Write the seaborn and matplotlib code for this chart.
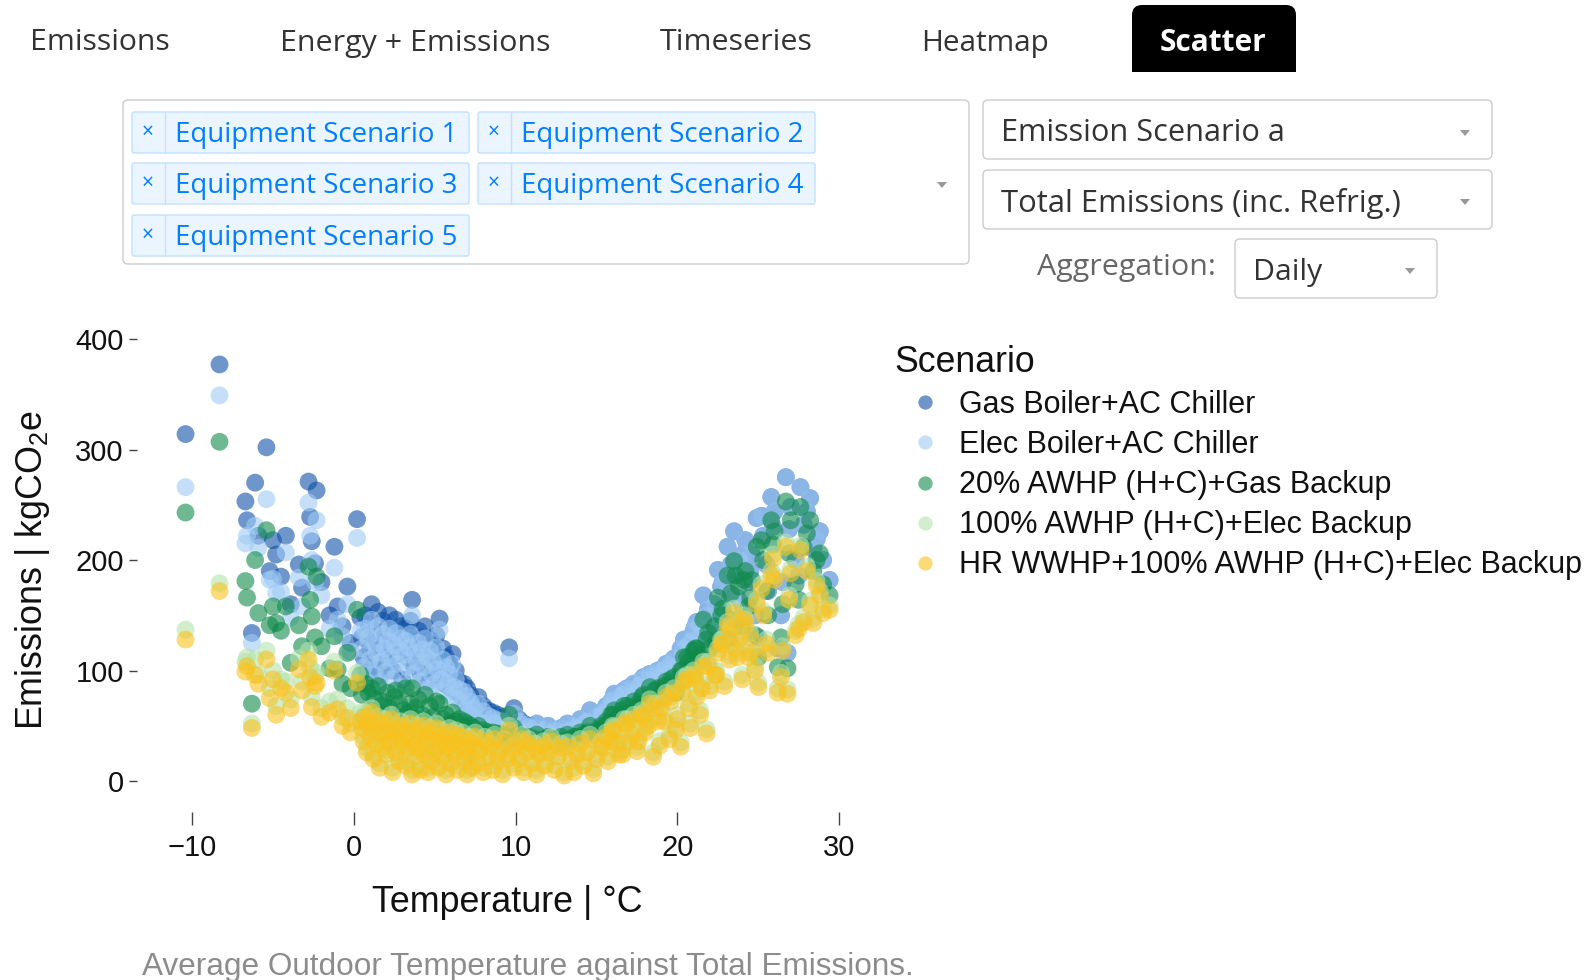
import matplotlib
matplotlib.use("Agg")
import matplotlib.pyplot as plt
import numpy as np
import pandas as pd
import seaborn as sns
from matplotlib.patches import FancyBboxPatch, Rectangle, Polygon

# ---------------- data (daily values) ----------------
scenarios = [
    "Gas Boiler+AC Chiller",
    "Elec Boiler+AC Chiller",
    "20% AWHP (H+C)+Gas Backup",
    "100% AWHP (H+C)+Elec Backup",
    "HR WWHP+100% AWHP (H+C)+Elec Backup",
]

# average outdoor temperature of each day (deg C)
temp = [
    # cold days
    -10.4, -8.3, -6.7, -6.6, -6.3, -6.1, -5.9, -5.4, -5.2, -5.0,
    -4.8, -4.5, -4.2, -3.9, -3.4, -3.2, -2.8, -2.7, -2.6, -2.4,
    -2.3, -2.0, -1.5, -1.2, -1.0, -0.7, -0.4, -0.2, 0.2, 0.4,
    # mild days
    0.5, 0.6, 0.7, 0.8, 0.9, 1.0, 1.1, 1.2, 1.3, 1.4,
    1.5, 1.6, 1.7, 1.8, 1.9, 2.0, 2.1, 2.2, 2.3, 2.4,
    2.5, 2.6, 2.7, 2.8, 2.9, 3.0, 3.1, 3.2, 3.3, 3.4,
    3.5, 3.6, 3.7, 3.8, 3.9, 4.0, 4.1, 4.2, 4.3, 4.4,
    4.5, 4.6, 4.7, 4.8, 4.9, 5.0, 5.1, 5.2, 5.3, 5.4,
    5.5, 5.6, 5.7, 5.8, 5.9, 6.0, 6.1, 6.2, 6.3, 6.4,
    6.5, 6.7, 6.8, 6.9, 7.0, 7.1, 7.2, 7.3, 7.4, 7.5,
    7.7, 7.8, 8.0, 8.1, 8.3, 8.4, 8.6, 8.7, 8.9, 9.0,
    9.2, 9.3, 9.5, 9.6, 9.8, 9.9, 10.1, 10.2, 10.4, 10.5,
    10.7, 10.8, 11.0, 11.2, 11.3, 11.5, 11.7, 11.8, 12.0, 12.2,
    12.4, 12.6, 12.8, 13.0, 13.2, 13.4, 13.6, 13.8, 14.0, 14.2,
    14.4, 14.6, 14.8, 15.0,
    # warm days
    15.3, 15.6, 15.9, 16.1, 16.4, 16.7, 17.0, 17.3, 17.5, 17.8,
    18.0, 18.3, 18.5, 18.8, 19.0, 19.3, 19.5, 19.8, 20.0, 20.2,
    20.4, 20.6, 20.8, 21.0, 21.2, 21.4, 21.6, 21.8, 22.0, 22.3,
    22.5, 22.7, 22.9, 23.1, 23.2, 23.5, 23.6, 23.8, 24.0, 24.2,
    24.4, 24.6, 24.9, 25.0, 25.3, 25.5, 25.8, 25.9, 26.2, 26.5,
    26.7, 26.8, 27.0, 27.3, 27.6, 27.8, 28.2, 28.4, 28.6, 29.0,
    29.4,
    15.4, 15.7, 16.0, 16.3, 16.6, 16.9, 17.2, 17.6, 17.9, 18.2,
    18.6, 18.9, 19.2, 19.6, 19.9, 20.3, 20.7, 21.1, 21.5, 21.9,
    22.4, 22.8, 23.3, 23.7, 24.1, 24.5, 24.8, 25.2, 25.6, 26.0,
    26.4, 26.9, 27.5, 28.0, 28.8,
]

gas_boiler = [
    314, 377, 253, 236, 134, 270, 222, 302, 190, 218,
    205, 185, 222, 160, 196, 175, 271, 239, 217, 197,
    263, 180, 150, 212, 158, 140, 176, 125, 237, 148,
    130, 112, 150, 98, 142, 120, 160, 104, 136, 126,
    153, 95, 118, 145, 130, 108, 138, 150, 122, 100,
    134, 146, 115, 128, 140, 92, 124, 138, 112, 132,
    145, 164, 104, 126, 118, 136, 98, 130, 112, 140,
    122, 90, 128, 106, 118, 96, 132, 110, 147, 100,
    120, 88, 112, 96, 106, 84, 115, 92, 100, 80,
    90, 76, 88, 70, 84, 66, 78, 45, 72, 62,
    76, 58, 68, 56, 64, 52, 62, 56, 60, 50,
    58, 54, 48, 121, 52, 66, 48, 56, 46, 52,
    44, 50, 42, 48, 52, 44, 40, 46, 50, 42,
    46, 40, 48, 44, 52, 46, 50, 48, 56, 52,
    54, 64, 50, 58,
    62, 68, 72, 79, 70, 82, 76, 88, 80, 92,
    84, 97, 90, 100, 94, 106, 98, 111, 104, 120,
    128, 116, 124, 136, 144, 132, 168, 150, 140, 160,
    191, 176, 150, 212, 170, 226, 186, 200, 160, 218,
    180, 205, 238, 130, 222, 196, 257, 230, 120, 180,
    275, 116, 248, 200, 266, 232, 256, 210, 219, 200,
    182,
    60, 66, 74, 68, 78, 84, 74, 86, 94, 80,
    98, 88, 102, 108, 96, 118, 126, 140, 128, 156,
    146, 180, 196, 166, 206, 190, 150, 240, 172, 244,
    150, 228, 186, 244, 226,
]

elec_boiler = [
    266, 349, 215, 222, 125, 231, 211, 255, 182, 183,
    170, 171, 207, 148, 184, 158, 252, 222, 200, 180,
    236, 168, 138, 193, 146, 131, 160, 117, 220, 136,
    120, 103, 138, 90, 130, 110, 146, 96, 125, 116,
    140, 87, 108, 133, 120, 99, 127, 138, 112, 92,
    123, 134, 106, 118, 129, 85, 114, 127, 103, 121,
    133, 150, 96, 116, 108, 125, 90, 119, 103, 129,
    112, 83, 118, 97, 108, 88, 121, 101, 137, 92,
    110, 81, 103, 88, 97, 77, 106, 85, 92, 74,
    83, 70, 81, 64, 77, 61, 72, 42, 66, 57,
    70, 53, 63, 52, 59, 48, 57, 52, 55, 46,
    54, 50, 44, 111, 48, 61, 46, 54, 45, 51,
    43, 49, 42, 48, 52, 44, 40, 46, 50, 42,
    46, 40, 48, 44, 52, 46, 50, 48, 56, 52,
    54, 64, 50, 58,
    62, 68, 72, 79, 70, 82, 76, 88, 80, 92,
    84, 97, 90, 100, 94, 106, 98, 111, 104, 120,
    128, 116, 124, 136, 144, 132, 168, 150, 140, 160,
    191, 176, 150, 212, 170, 226, 186, 200, 160, 218,
    180, 205, 238, 130, 222, 196, 257, 230, 120, 180,
    275, 116, 248, 200, 266, 232, 256, 210, 219, 200,
    182,
    60, 66, 74, 68, 78, 84, 74, 86, 94, 80,
    98, 88, 102, 108, 96, 118, 126, 140, 128, 156,
    146, 180, 196, 166, 206, 190, 150, 240, 172, 244,
    150, 228, 186, 244, 226,
]

awhp20_gas = [
    243, 307, 181, 166, 70, 200, 152, 227, 141, 158,
    143, 136, 158, 107, 141, 122, 194, 164, 149, 130,
    185, 122, 102, 131, 101, 88, 116, 84, 155, 96,
    78, 58, 88, 52, 80, 64, 84, 48, 74, 62,
    86, 44, 68, 72, 60, 50, 80, 66, 56, 42,
    76, 82, 54, 70, 46, 58, 64, 84, 50, 62,
    70, 84, 48, 66, 56, 74, 42, 60, 52, 78,
    54, 40, 68, 46, 58, 44, 72, 48, 70, 50,
    56, 42, 60, 46, 52, 40, 62, 44, 54, 38,
    56, 50, 54, 48, 52, 46, 50, 38, 48, 44,
    50, 42, 46, 42, 44, 40, 44, 42, 43, 38,
    42, 40, 38, 60, 40, 48, 38, 42, 38, 40,
    36, 40, 36, 38, 42, 36, 34, 38, 40, 36,
    38, 34, 40, 36, 42, 38, 40, 40, 44, 42,
    44, 50, 42, 46,
    50, 54, 60, 64, 58, 68, 62, 72, 66, 76,
    70, 85, 74, 84, 80, 90, 82, 94, 88, 100,
    112, 112, 104, 118, 120, 114, 146, 128, 120, 140,
    166, 150, 128, 186, 128, 199, 186, 176, 140, 190,
    158, 182, 212, 112, 200, 172, 236, 214, 103, 160,
    253, 102, 236, 178, 248, 212, 236, 190, 200, 178,
    168,
    48, 52, 60, 56, 64, 68, 60, 70, 78, 68,
    82, 74, 86, 92, 80, 100, 108, 120, 110, 134,
    126, 156, 170, 146, 182, 166, 132, 218, 150, 226,
    130, 206, 164, 224, 206,
]

awhp100_elec = [
    137, 179, 108, 112, 52, 110, 96, 118, 84, 100,
    68, 92, 90, 74, 111, 90, 118, 103, 76, 95,
    98, 66, 72, 108, 74, 58, 66, 52, 98, 62,
    52, 40, 62, 30, 56, 44, 66, 24, 52, 38,
    58, 16, 46, 34, 56, 28, 48, 40, 60, 12,
    44, 30, 50, 22, 54, 36, 42, 18, 48, 34,
    56, 10, 40, 26, 50, 32, 14, 44, 54, 28,
    38, 12, 48, 22, 42, 30, 52, 16, 36, 46,
    26, 40, 10, 34, 48, 20, 38, 28, 46, 14,
    36, 44, 24, 32, 10, 40, 26, 16, 36, 44,
    20, 32, 12, 40, 26, 34, 14, 42, 22, 30,
    10, 38, 24, 50, 32, 16, 36, 24, 42, 12,
    30, 38, 20, 34, 10, 28, 36, 18, 30, 40,
    14, 26, 34, 8, 35, 22, 12, 28, 38, 18,
    30, 42, 11, 24,
    36, 44, 40, 49, 28, 56, 40, 60, 31, 64,
    48, 74, 26, 58, 70, 80, 42, 84, 60, 35,
    94, 96, 52, 100, 80, 64, 108, 47, 86, 100,
    120, 128, 90, 144, 114, 156, 124, 132, 96, 146,
    116, 120, 164, 89, 154, 128, 190, 205, 84, 122,
    216, 83, 192, 136, 213, 148, 163, 147, 181, 156,
    159,
    34, 22, 50, 38, 28, 56, 46, 40, 62, 54,
    70, 36, 58, 76, 50, 84, 70, 96, 88, 108,
    100, 128, 140, 116, 150, 134, 104, 178, 120, 186,
    98, 168, 142, 194, 172,
]

hr_wwhp = [
    128, 172, 99, 104, 48, 96, 88, 110, 75, 92,
    60, 84, 80, 66, 101, 82, 110, 94, 67, 86,
    89, 58, 62, 100, 65, 50, 57, 44, 89, 54,
    48, 36, 58, 26, 52, 40, 62, 20, 48, 34,
    54, 12, 42, 30, 52, 24, 44, 36, 56, 8,
    40, 26, 46, 18, 50, 32, 38, 14, 44, 30,
    52, 6, 36, 22, 46, 28, 10, 40, 50, 24,
    34, 8, 44, 18, 38, 26, 48, 12, 32, 42,
    22, 36, 6, 30, 44, 16, 34, 24, 42, 10,
    32, 40, 20, 28, 6, 36, 22, 12, 32, 40,
    16, 28, 8, 36, 22, 30, 10, 38, 18, 26,
    6, 34, 20, 46, 28, 12, 32, 20, 38, 8,
    26, 34, 16, 30, 6, 24, 32, 14, 26, 36,
    10, 22, 30, 5, 31, 18, 8, 24, 34, 14,
    26, 38, 7, 20,
    32, 40, 36, 45, 24, 52, 36, 56, 27, 60,
    44, 70, 22, 54, 66, 76, 38, 80, 56, 31,
    90, 92, 48, 96, 76, 60, 104, 43, 82, 96,
    116, 124, 86, 140, 110, 152, 120, 128, 92, 142,
    112, 116, 160, 85, 150, 124, 186, 201, 80, 118,
    212, 79, 188, 132, 209, 144, 159, 143, 177, 152,
    155,
    30, 18, 46, 34, 24, 52, 42, 36, 58, 50,
    66, 32, 54, 72, 46, 80, 66, 92, 84, 104,
    96, 124, 136, 112, 146, 130, 100, 174, 116, 182,
    94, 164, 138, 190, 168,
]

colors = ["#0d50a8", "#9fcbf6", "#0e8a4a", "#b5e3ad", "#fac21c"]

x_ticks = [-10, 0, 10, 20, 30]
y_ticks = [0, 100, 200, 300, 400]

tabs = ["Emissions", "Energy + Emissions", "Timeseries", "Heatmap", "Scatter"]
chips = ["Equipment Scenario 1", "Equipment Scenario 2", "Equipment Scenario 3",
         "Equipment Scenario 4", "Equipment Scenario 5"]

# ---------------- build long table ----------------
series = [gas_boiler, elec_boiler, awhp20_gas, awhp100_elec, hr_wwhp]
df = pd.concat(
    [pd.DataFrame({"Temperature": temp, "Emissions": vals, "Scenario": name})
     for name, vals in zip(scenarios, series)],
    ignore_index=True,
)

sns.set_theme(style="white")
plt.rcParams["font.family"] = ["Liberation Sans", "DejaVu Sans"]
plt.rcParams["mathtext.fontset"] = "custom"
plt.rcParams["mathtext.rm"] = "Liberation Sans"
plt.rcParams["mathtext.it"] = "Liberation Sans:italic"
plt.rcParams["mathtext.default"] = "regular"

W, H = 1591, 980
fig = plt.figure(figsize=(W / 100, H / 100), dpi=100)
fig.patch.set_facecolor("white")

# UI overlay in pixel coordinates
ui = fig.add_axes([0, 0, 1, 1], zorder=0)
ui.set_xlim(0, W)
ui.set_ylim(H, 0)
ui.axis("off")

# main scatter axes
ax_l, ax_r, ax_t, ax_b = 137, 870, 325, 812
ax = fig.add_axes([ax_l / W, (H - ax_b) / H, (ax_r - ax_l) / W, (ax_b - ax_t) / H], zorder=1)
ax.set_facecolor("none")

sns.scatterplot(
    data=df, x="Temperature", y="Emissions", hue="Scenario",
    hue_order=scenarios, palette=dict(zip(scenarios, colors)),
    s=165, alpha=0.6, linewidth=0, ax=ax,
)

ax.set_xlim(-13.4, 31.9)
ax.set_ylim(-28, 412.7)
ax.set_xticks(x_ticks)
ax.set_yticks(y_ticks)
for sp in ax.spines.values():
    sp.set_visible(False)
ax.tick_params(axis="both", which="major", direction="out", width=1.0,
               color="#444444", labelsize=21, labelcolor="#111111",
               bottom=True, left=True)
ax.tick_params(axis="y", length=5.5, pad=4)
ax.tick_params(axis="x", length=9, pad=7)
ax.grid(False)

ax.set_xlabel("Temperature | °C", fontsize=25.8, color="#111111", va="center")
ax.xaxis.set_label_coords((507 - ax_l) / (ax_r - ax_l), (ax_b - 902) / (ax_b - ax_t))
ax.set_ylabel("Emissions | kgCO$_2$e", fontsize=25.8, color="#111111", va="center")
ax.yaxis.set_label_coords((32 - ax_l) / (ax_r - ax_l), (ax_b - 570) / (ax_b - ax_t))

sns.move_legend(
    ax, "upper left",
    bbox_to_anchor=(894 / W, 1 - 345 / H), bbox_transform=fig.transFigure,
    frameon=False, title="Scenario", fontsize=22.0, title_fontsize=25.7,
    alignment="left", borderpad=0, borderaxespad=0, handletextpad=0.12,
    handlelength=2.0, labelspacing=0.33, markerscale=0.8,
)
leg = ax.get_legend()
for t in leg.get_texts():
    t.set_color("#111111")
leg.get_title().set_color("#111111")

# ---------------- UI widgets ----------------
renderer = fig.canvas.get_renderer()


def fit_text(x, y, s, width, ha="left", va="center", size0=20, **kw):
    t = ui.text(x, y, s, fontsize=size0, ha=ha, va=va, **kw)
    bb = t.get_window_extent(renderer)
    t.set_fontsize(size0 * width / bb.width)
    return t


def rbox(x0, y0, x1, y1, r=4, fc="white", ec="#cccccc", lw=1.0, z=1):
    p = FancyBboxPatch((x0, y0), x1 - x0, y1 - y0,
                       boxstyle=f"round,pad=0,rounding_size={r}",
                       fc=fc, ec=ec, lw=lw, zorder=z)
    ui.add_patch(p)
    return p


def arrow(cx, cy, col="#999999"):
    ui.add_patch(Polygon([(cx - 5, cy - 3), (cx + 5, cy - 3), (cx, cy + 3)],
                         closed=True, fc=col, ec="none", zorder=3))


OPEN = ["Open Sans", "DejaVu Sans"]

# tabs
tab_geom = [(30, 139), (280, 270), (660, 152), (921, 128)]
for name, (x0, w) in zip(tabs[:4], tab_geom):
    fit_text(x0, 43, name, w, family=OPEN, color="#333333")
rbox(1132, 5, 1296, 60, r=10, fc="black", ec="black", lw=0)
ui.add_patch(Rectangle((1132, 40), 164, 32, fc="black", ec="none", zorder=1))
fit_text(1213, 43, tabs[4], 107, ha="center", family=OPEN, color="white",
         fontweight="bold", zorder=4)

# multi-select box
rbox(123, 100, 969, 264, r=5, ec="#cccccc")
chip_pos = [(132, 112), (478, 112), (132, 163), (478, 163), (132, 215)]
chip_size = None
for name, (cx, cy) in zip(chips, chip_pos):
    rbox(cx, cy, cx + 337, cy + 41, r=2, fc="#ebf5ff", ec="#c2e0ff", lw=1.0, z=2)
    ui.plot([cx + 33, cx + 33], [cy, cy + 41], color="#c2e0ff", lw=1.0, zorder=3)
    ui.text(cx + 16, cy + 20, "×", fontsize=15, ha="center", va="center",
            family=OPEN, color="#007eff", zorder=4)
    if chip_size is None:
        t = fit_text(cx + 43, cy + 23, name, 282, family=OPEN, color="#007eff", zorder=4)
        chip_size = t.get_fontsize()
    else:
        ui.text(cx + 43, cy + 23, name, fontsize=chip_size, ha="left", va="center",
                family=OPEN, color="#007eff", zorder=4)
arrow(942, 185)

# dropdowns
rbox(983, 100, 1492, 159, r=5)
fit_text(1001, 133, "Emission Scenario a", 282, family=OPEN, color="#333333", zorder=4)
arrow(1465, 133)
rbox(983, 170, 1492, 229, r=5)
fit_text(1001, 203, "Total Emissions (inc. Refrig.)", 400, family=OPEN, color="#333333", zorder=4)
arrow(1465, 202)
fit_text(1037, 267, "Aggregation:", 178, family=OPEN, color="#666666", zorder=4)
rbox(1235, 239, 1437, 298, r=5)
fit_text(1253, 272, "Daily", 69, family=OPEN, color="#333333", zorder=4)
arrow(1410, 271)

# caption
fit_text(142, 967, "Average Outdoor Temperature against Total Emissions.", 770,
         family=["Liberation Sans", "DejaVu Sans"], color="#8c8c8c")

fig.savefig("out.png", dpi=100, facecolor="white")
